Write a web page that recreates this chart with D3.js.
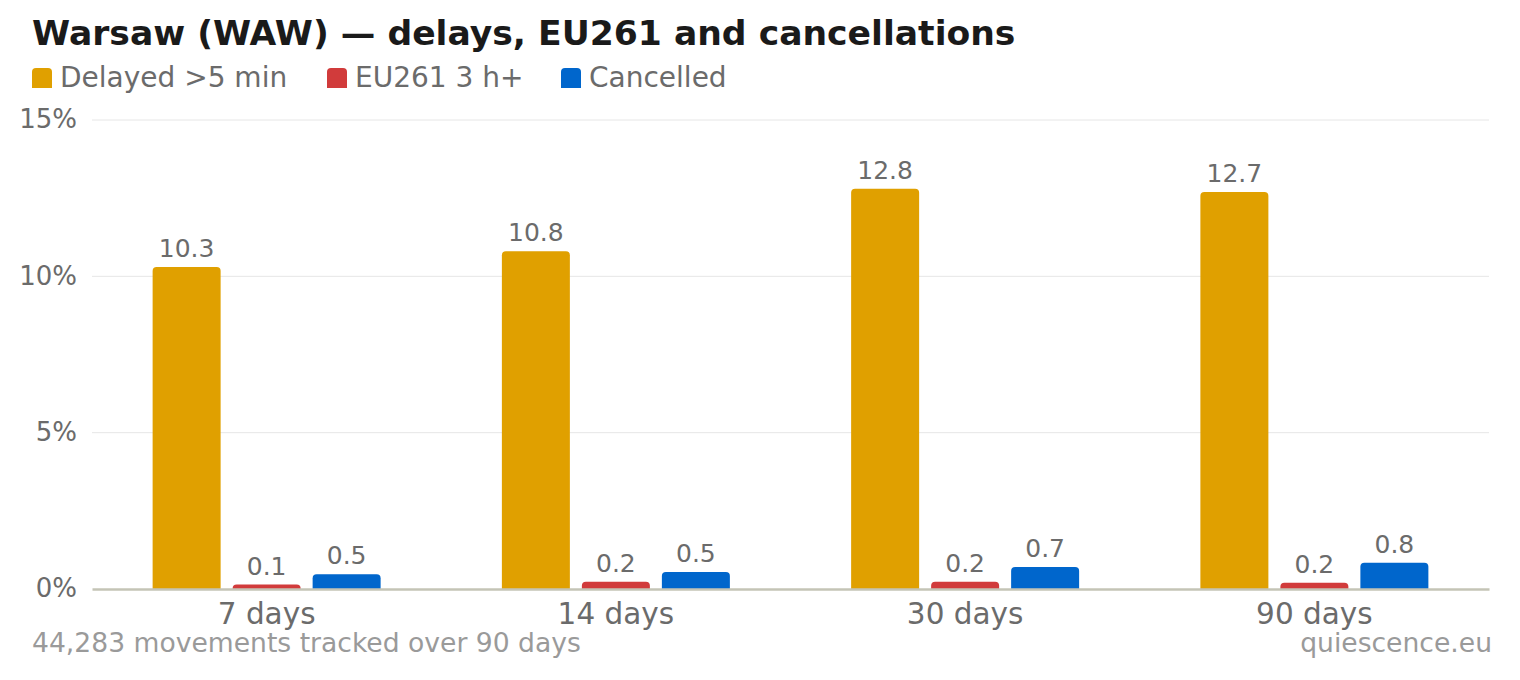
<!DOCTYPE html>
<head>
  <meta charset="utf-8">
  <script src="https://cdn.jsdelivr.net/npm/d3@7"></script>
  <style>
    body { margin: 0; background: #fff; }
    text { font-family: "DejaVu Sans", sans-serif; }
  </style>
</head>
<body>
  <script>
    var periods = ["7 days", "14 days", "30 days", "90 days"];
    var seriesNames = ["Delayed >5 min", "EU261 3 h+", "Cancelled"];
    var seriesColors = ["#e0a000", "#d13b3b", "#0066cc"];
    var delayed = [10.3, 10.8, 12.8, 12.7];
    var eu261 = [0.14, 0.23, 0.23, 0.2];
    var cancelled = [0.47, 0.54, 0.7, 0.84];
    var yTicks = [0, 5, 10, 15];

    var width = 1520, height = 680;
    var margin = {top: 120, right: 31, bottom: 91, left: 92};

    var svg = d3.select("body").append("svg")
      .attr("width", width)
      .attr("height", height);

    var allSeries = [delayed, eu261, cancelled];
    var rows = [];
    periods.forEach(function(p, i) {
      seriesNames.forEach(function(s, j) {
        rows.push({period: p, series: s, value: allSeries[j][i], color: seriesColors[j]});
      });
    });

    var x0 = d3.scaleBand()
      .domain(periods)
      .range([margin.left, width - margin.right])
      .padding(0);

    var x1 = d3.scaleBand()
      .domain(seriesNames)
      .range([-114, 114])
      .paddingInner(0.15)
      .paddingOuter(0);

    var y = d3.scaleLinear()
      .domain([0, 15])
      .range([height - margin.bottom, margin.top]);

    function topRounded(x, yy, w, h, r) {
      r = Math.min(r, h, w / 2);
      return "M" + x + "," + (yy + h) +
        "V" + (yy + r) +
        "Q" + x + "," + yy + " " + (x + r) + "," + yy +
        "H" + (x + w - r) +
        "Q" + (x + w) + "," + yy + " " + (x + w) + "," + (yy + r) +
        "V" + (yy + h) + "Z";
    }

    // title
    svg.append("text")
      .attr("x", 32).attr("y", 45)
      .attr("font-size", 34.6).attr("font-weight", "bold")
      .attr("fill", "#1a1a1a")
      .text("Warsaw (WAW) \u2014 delays, EU261 and cancellations");

    // legend
    var legendX = [32, 327, 561];
    var leg = svg.append("g").selectAll("g").data(seriesNames)
      .enter().append("g")
        .attr("transform", function(d, i) { return "translate(" + legendX[i] + ",68)"; });
    leg.append("path")
      .attr("d", function() { return topRounded(0, 0, 20, 20, 4); })
      .attr("fill", function(d, i) { return seriesColors[i]; });
    leg.append("text")
      .attr("x", 28).attr("y", 19)
      .attr("font-size", 28)
      .attr("fill", "#6b6b6b")
      .text(function(d) { return d; });

    // gridlines
    svg.append("g").selectAll("line").data(yTicks.filter(function(t) { return t > 0; }))
      .enter().append("line")
        .attr("x1", margin.left).attr("x2", width - margin.right)
        .attr("y1", y).attr("y2", y)
        .attr("stroke", "#e6e6e6").attr("stroke-width", 1);

    // y axis labels
    var yAxis = svg.append("g")
      .attr("transform", "translate(" + (margin.left - 15) + ",0)")
      .call(d3.axisLeft(y).tickValues(yTicks).tickSize(0).tickPadding(0)
        .tickFormat(function(d) { return d + "%"; }));
    yAxis.select(".domain").remove();
    yAxis.selectAll("text")
      .attr("font-size", 26).attr("font-family", "DejaVu Sans, sans-serif")
      .attr("fill", "#6b6b6b").attr("dy", "0.3em");

    // bars
    svg.append("g").selectAll("path").data(rows)
      .enter().append("path")
        .attr("d", function(d) {
          var bx = x0(d.period) + x0.bandwidth() / 2 + x1(d.series);
          return topRounded(bx, y(d.value), x1.bandwidth(), y(0) - y(d.value), 4);
        })
        .attr("fill", function(d) { return d.color; });

    svg.append("g").selectAll("text").data(rows)
      .enter().append("text")
        .attr("x", function(d) { return x0(d.period) + x0.bandwidth() / 2 + x1(d.series) + x1.bandwidth() / 2; })
        .attr("y", function(d) { return y(d.value) - 10; })
        .attr("text-anchor", "middle")
        .attr("font-size", 25)
        .attr("fill", "#6b6b6b")
        .text(function(d) { return d.value.toFixed(1); });

    // x axis
    var xAxis = svg.append("g")
      .attr("transform", "translate(0," + y(0) + ")")
      .call(d3.axisBottom(x0).tickSize(0).tickPadding(0));
    xAxis.select(".domain")
      .attr("stroke", "#c4c4b6").attr("stroke-width", 2.5);
    xAxis.selectAll("text")
      .attr("font-size", 29.5).attr("font-family", "DejaVu Sans, sans-serif")
      .attr("fill", "#6b6b6b").attr("dy", "1.2em");

    // footer
    svg.append("text")
      .attr("x", 32).attr("y", 652)
      .attr("font-size", 26.6).attr("fill", "#9a9a9a")
      .text("44,283 movements tracked over 90 days");
    svg.append("text")
      .attr("x", 1492).attr("y", 652)
      .attr("text-anchor", "end")
      .attr("font-size", 26.6).attr("fill", "#9a9a9a")
      .text("quiescence.eu");
  </script>
</body>
